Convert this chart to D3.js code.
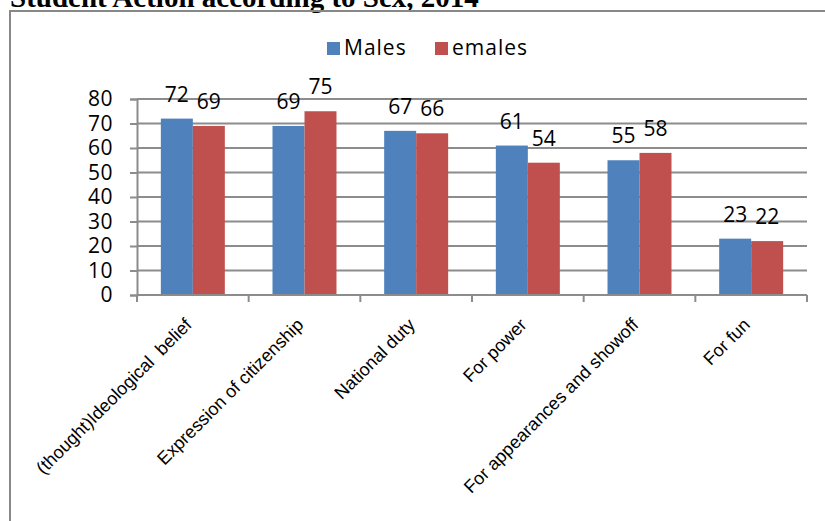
<!DOCTYPE html>
<html>
<head>
<meta charset="utf-8">
<script src="https://cdn.jsdelivr.net/npm/d3@7"></script>
<style>
  body { margin: 0; background: #fff; }
  svg { display: block; }
</style>
</head>
<body>
<svg></svg>
<script>
const categories = ["(thought)Ideological  belief", "Expression of citizenship", "National duty",
                    "For power", "For appearances and showoff", "For fun"]
const series = ["Males", "emales"]
const males = [72, 69, 67, 61, 55, 23]
const females = [69, 75, 66, 54, 58, 22]
const yTicks = [0, 10, 20, 30, 40, 50, 60, 70, 80]
const colors = ["#4F81BD", "#C0504D"]

const width = 825, height = 521
const plotL = 137, plotR = 807, plotT = 99, plotB = 295

const data = categories.map((c, i) => ({cat: c, values: [males[i], females[i]]}))

const svg = d3.select("svg")
  .attr("width", width)
  .attr("height", height)

// title (cut off at the top like in the source)
svg.append("text")
  .attr("x", 10)
  .attr("y", 7)
  .attr("font-family", "Liberation Serif")
  .attr("font-weight", "bold")
  .attr("font-size", 29)
  .text("Student Action according to Sex, 2014")

// chart frame, runs off the right and bottom
svg.append("rect")
  .attr("x", 10).attr("y", 11)
  .attr("width", 840).attr("height", 540)
  .attr("fill", "none")
  .attr("stroke", "#888")
  .attr("stroke-width", 2)

const x0 = d3.scaleBand()
  .domain(categories)
  .range([plotL, plotR])

const x1 = d3.scaleBand()
  .domain(series)
  .range([0, x0.bandwidth()])
  .paddingOuter(0.745)

const y = d3.scaleLinear()
  .domain([0, 80])
  .range([plotB, plotT])

// gridlines
svg.append("g")
  .selectAll("line")
  .data(yTicks.filter(d => d > 0))
  .join("line")
    .attr("x1", plotL).attr("x2", plotR)
    .attr("y1", d => y(d)).attr("y2", d => y(d))
    .attr("stroke", "#8c8c8c")
    .attr("stroke-width", 2)

// bars
const groups = svg.append("g")
  .selectAll("g")
  .data(data)
  .join("g")
    .attr("transform", d => `translate(${x0(d.cat)},0)`)

groups.selectAll("rect")
  .data(d => d.values.map((v, i) => ({s: series[i], v: v, i: i})))
  .join("rect")
    .attr("x", d => x1(d.s))
    .attr("y", d => y(d.v))
    .attr("width", x1.bandwidth())
    .attr("height", d => y(0) - y(d.v))
    .attr("fill", d => colors[d.i])

groups.selectAll("text")
  .data(d => d.values.map((v, i) => ({s: series[i], v: v})))
  .join("text")
    .attr("x", d => x1(d.s) + x1.bandwidth() / 2)
    .attr("y", d => y(d.v) - 17)
    .attr("text-anchor", "middle")
    .attr("font-family", "Open Sans")
    .attr("font-size", 21)
    .attr("fill", "#000")
    .text(d => d.v)

// y axis
const yAxis = d3.axisLeft(y).tickValues(yTicks).tickSize(7).tickPadding(17)
const gy = svg.append("g")
  .attr("transform", `translate(${plotL},0)`)
  .call(yAxis)
gy.select(".domain").attr("stroke", "#8c8c8c").attr("stroke-width", 2)
gy.selectAll(".tick line").attr("stroke", "#8c8c8c").attr("stroke-width", 2)
gy.selectAll(".tick text")
  .attr("font-family", "Open Sans")
  .attr("font-size", 21)
  .attr("letter-spacing", 0.5)
  .attr("fill", "#000")

// x axis: ticks at the category boundaries
const xAxisLine = svg.append("g")
xAxisLine.append("line")
  .attr("x1", plotL).attr("x2", plotR)
  .attr("y1", plotB).attr("y2", plotB)
  .attr("stroke", "#8c8c8c").attr("stroke-width", 2)
xAxisLine.selectAll(".xt")
  .data(categories.concat(["end"]))
  .join("line")
    .attr("class", "xt")
    .attr("x1", (d, i) => plotL + i * x0.step())
    .attr("x2", (d, i) => plotL + i * x0.step())
    .attr("y1", plotB).attr("y2", plotB + 7)
    .attr("stroke", "#8c8c8c").attr("stroke-width", 2)

svg.append("g")
  .selectAll("text")
  .data(categories)
  .join("text")
    .attr("transform", d => `translate(${x0(d) + x0.bandwidth() / 2},${plotB + 31}) rotate(-45)`)
    .attr("text-anchor", "end")
    .attr("font-family", "Liberation Sans")
    .attr("font-size", 18)
    .attr("fill", "#000")
    .attr("xml:space", "preserve")
    .style("white-space", "pre")
    .text(d => d)

// legend
const legend = svg.append("g")
const legX = [327, 435]
series.forEach((s, i) => {
  legend.append("rect")
    .attr("x", legX[i]).attr("y", 42)
    .attr("width", 13).attr("height", 13)
    .attr("fill", colors[i])
  legend.append("text")
    .attr("x", legX[i] + 17).attr("y", 55)
    .attr("font-family", "Open Sans")
    .attr("font-size", 21)
    .attr("letter-spacing", 1)
    .attr("fill", "#000")
    .text(s)
})
</script>
</body>
</html>
